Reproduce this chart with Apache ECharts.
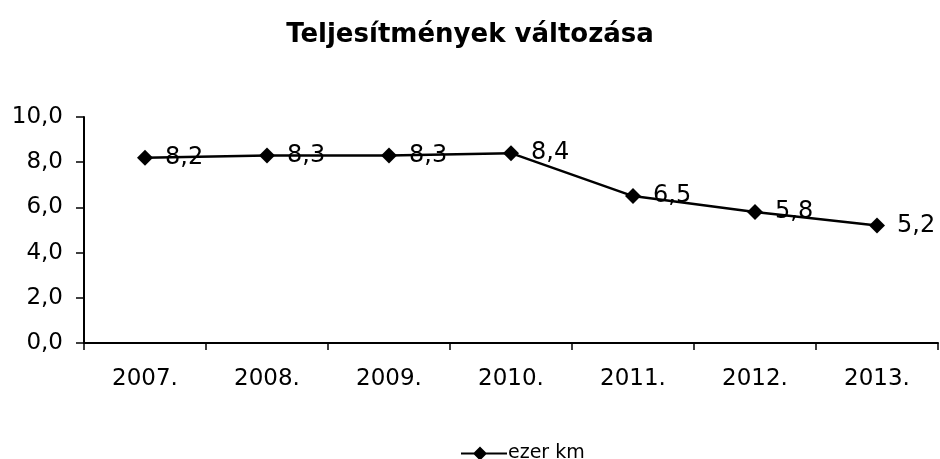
<!DOCTYPE html>
<html><head><meta charset="utf-8">
<script src="https://cdn.jsdelivr.net/npm/echarts@6/dist/echarts.min.js"></script>
<style>html,body{margin:0;padding:0;background:#fff}#c{width:940px;height:459px}</style>
</head><body><div id="c"></div>
<script>
const categories = ['2007.', '2008.', '2009.', '2010.', '2011.', '2012.', '2013.'];
const values = [8.2, 8.3, 8.3, 8.4, 6.5, 5.8, 5.2];
const seriesName = 'ezer km';
const titleText = 'Teljesítmények változása';
const fmt = v => v.toFixed(1).replace('.', ',');
const FONT = 'DejaVu Sans';
const chart = echarts.init(document.getElementById('c'));
chart.setOption({
  animation: false,
  backgroundColor: '#fff',
  title: { text: titleText, left: 'center', top: 17,
    textStyle: { fontFamily: FONT, fontWeight: 'bold', fontSize: 26, color: '#000' } },
  legend: { left: 456, top: 439, itemWidth: 46, itemHeight: 14, itemGap: 6,
    textStyle: { fontFamily: FONT, fontSize: 19, color: '#000', padding: [0,0,0,-4] },
    data: [{ name: seriesName,
      icon: 'path://M0,6.1 L46,6.1 L46,7.9 L0,7.9 Z M19,0 L26,7 L19,14 L12,7 Z',
      itemStyle: { color: '#000' } }] },
  grid: { left: 84, right: 2, top: 117, bottom: 116, containLabel: false },
  xAxis: { type: 'category', data: categories, boundaryGap: true,
    axisLine: { lineStyle: { color: '#000', width: 2 } },
    axisTick: { show: true, length: 7, lineStyle: { color: '#000', width: 1.5 } },
    axisLabel: { color: '#000', fontFamily: FONT, fontSize: 23, margin: 25 },
    splitLine: { show: false } },
  yAxis: { type: 'value', min: 0, max: 10, interval: 2,
    axisLine: { show: true, lineStyle: { color: '#000', width: 2 } },
    axisTick: { show: true, length: 8, lineStyle: { color: '#000', width: 1.5 } },
    axisLabel: { color: '#000', fontFamily: FONT, fontSize: 23, margin: 21, formatter: v => fmt(v) },
    splitLine: { show: false } },
  series: [{ name: seriesName, type: 'line', data: values,
    symbol: 'diamond', symbolSize: 16, showAllSymbol: true,
    lineStyle: { color: '#000', width: 2.5 },
    itemStyle: { color: '#000' },
    label: { show: true, position: 'right', distance: 12, color: '#000',
      fontFamily: FONT, fontSize: 24, formatter: p => fmt(p.value) } }]
});
</script></body></html>
